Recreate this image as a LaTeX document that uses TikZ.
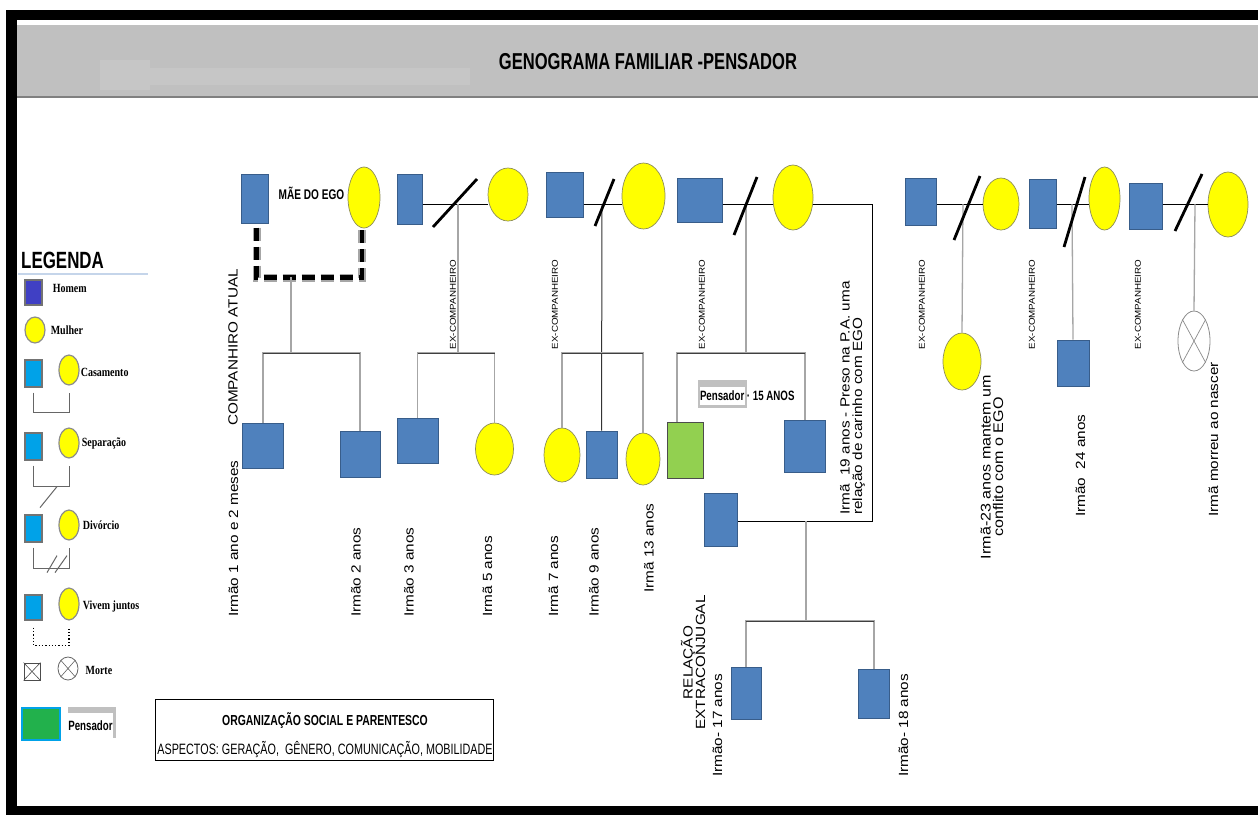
\documentclass[tikz,border=0pt]{standalone}
\usepackage{fontspec}
\setmainfont{Liberation Sans}
\newfontfamily\narrowfont{Liberation Sans}[FakeStretch=0.72]
\newfontfamily\widefont{Liberation Sans}[FakeStretch=1.15]
\newfontfamily\legfont{Liberation Serif}[FakeStretch=0.8]
\usetikzlibrary{positioning,shapes.geometric}

\definecolor{manblue}{HTML}{4F81BD}
\definecolor{manedge}{HTML}{385D8A}
\definecolor{womanyellow}{HTML}{FFFF00}
\definecolor{womanedge}{HTML}{8C8C5A}
\definecolor{thinkgreen}{HTML}{92D050}
\definecolor{headgray}{HTML}{C0C0C0}
\definecolor{kingray}{HTML}{A6A6A6}
\definecolor{legviolet}{HTML}{4040C4}
\definecolor{legcyan}{HTML}{00A2E8}
\definecolor{leggreen}{HTML}{22B14C}
\definecolor{legrule}{HTML}{C5D5EA}

\newcommand{\cutmark}[3]{\draw[cutline] ([shift={(-#2,#3)}]#1) -- ([shift={(#2,-#3)}]#1);}

\begin{document}
\begin{tikzpicture}[x=1pt, y=-1pt,
    man/.style={rectangle, draw=manedge, fill=manblue, line width=1pt, inner sep=0pt},
    woman/.style={ellipse, draw=womanedge, fill=womanyellow, line width=0.7pt, inner sep=0pt},
    thinker/.style={rectangle, draw=black!70, fill=thinkgreen, line width=0.8pt, inner sep=0pt},
    dead/.style={ellipse, draw=black!45, fill=white, line width=0.8pt, inner sep=0pt},
    couple/.style={draw=black, line width=0.9pt},
    kin/.style={draw=kingray, line width=1.3pt},
    sibbar/.style={draw=black!75, line width=0.9pt},
    cutline/.style={draw=black, line width=2.8pt},
    livetogether/.style={draw=black, line width=4.5pt, dash pattern=on 13pt off 6pt},
    agetext/.style={rotate=90, anchor=west, inner sep=0pt, font=\widefont\fontsize{13.3}{12.5}\selectfont},
    exlabel/.style={rotate=90, inner sep=0pt, font=\widefont\fontsize{8.5}{10}\selectfont},
    narrowtext/.style={inner sep=0pt, font=\narrowfont\bfseries\fontsize{14}{16}\selectfont},
    legbox/.style={rectangle, draw=black!55, fill=legcyan, line width=1.2pt, inner sep=0pt, minimum width=17pt},
    legcircle/.style={ellipse, draw=black!45, fill=womanyellow, line width=1.2pt, inner sep=0pt, minimum width=20pt},
    legtext/.style={inner sep=0pt, font=\legfont\bfseries\fontsize{12.5}{14}\selectfont},
    legline/.style={draw=black!60, line width=1pt}
]
    % fundo, moldura e cabecalho
    \fill[white] (0,0) rectangle (1258,815);
    \useasboundingbox (0,0) rectangle (1258,815);
    \fill[black] (6,10) rectangle (1258,20);
    \fill[black] (6,10) rectangle (17,815);
    \fill[black] (6,806) rectangle (1258,815);
    \fill[headgray] (17,25) rectangle (1258,97);
    \fill[headgray!90!white] (100,60) rectangle (150,90);
    \fill[headgray!90!white] (100,68) rectangle (470,85);
    \draw[black!50, line width=1.5pt] (17,97) -- (1258,97);
    \node[inner sep=0pt, font=\narrowfont\bfseries\fontsize{23}{27}\selectfont] (title) at (648,62) {GENOGRAMA FAMILIAR -PENSADOR};

    % legenda
    \node[anchor=west, inner sep=0pt, font=\narrowfont\bfseries\fontsize{23.5}{28}\selectfont] (legtitle) at (21,260) {LEGENDA};
    \draw[legrule, line width=1.2pt] (18,274) -- (148,274);

    \node[legbox, fill=legviolet, minimum height=25pt] (lgHomem) at (33.5,292.5) {};
    \node[legtext, right=10pt of lgHomem, yshift=4pt] (txHomem) {Homem};
    \node[legcircle, minimum height=26pt] (lgMulher) at (35,330) {};
    \node[legtext, right=5pt of lgMulher] (txMulher) {Mulher};

    \node[legbox, minimum height=27pt] (lgCasM) at (33.5,373.5) {};
    \node[legcircle, minimum height=30pt] (lgCasF) at (69,370) {};
    \node[legtext, right=1pt of lgCasF, yshift=-2pt] (txCas) {Casamento};
    \draw[legline] ([yshift=-5pt]lgCasM.south) -- ++(0,20) -| ([yshift=-7pt]lgCasF.south);

    \node[legbox, minimum height=27pt] (lgSepM) at (33.5,446.5) {};
    \node[legcircle, minimum height=30pt] (lgSepF) at (69,443) {};
    \node[legtext, right=2pt of lgSepF] (txSep) {Separação};
    \draw[legline] ([yshift=-5pt]lgSepM.south) -- ++(0,21) -| ([yshift=-7pt]lgSepF.south);
    \draw[legline] ([shift={(6.5,47)}]lgSepM.south) -- ++(17,-21);

    \node[legbox, minimum height=27pt] (lgDivM) at (33.5,528.5) {};
    \node[legcircle, minimum height=30pt] (lgDivF) at (69,525) {};
    \node[legtext, right=3pt of lgDivF] (txDiv) {Divórcio};
    \draw[legline] ([yshift=-5pt]lgDivM.south) -- ++(0,21) -| ([yshift=-7pt]lgDivF.south);
    \draw[legline] ([shift={(13.5,30)}]lgDivM.south) -- ++(10,-17);
    \draw[legline] ([shift={(21.5,30)}]lgDivM.south) -- ++(12,-17);

    \node[legbox, minimum height=25pt] (lgVivM) at (33.5,607.5) {};
    \node[legcircle, minimum height=32pt] (lgVivF) at (69,604) {};
    \node[legtext, right=3pt of lgVivF, yshift=-2pt] (txViv) {Vivem juntos};
    \draw[legline, draw=black, line width=1.3pt, dotted] ([yshift=-7pt]lgVivM.south) -- ++(0,18) -| ([yshift=-7pt]lgVivF.south);

    \node[rectangle, draw=black!70, fill=white, line width=0.8pt, inner sep=0pt, minimum width=16pt, minimum height=17pt] (lgMorteM) at (32,671.5) {};
    \draw[black!70, line width=0.6pt] (lgMorteM.north west) -- (lgMorteM.south east) (lgMorteM.north east) -- (lgMorteM.south west);
    \node[dead, draw=black!60, minimum width=20pt, minimum height=23pt] (lgMorteF) at (68,668.5) {};
    \draw[black!60, line width=0.6pt] (lgMorteF.north west) -- (lgMorteF.south east) (lgMorteF.north east) -- (lgMorteF.south west);
    \node[legtext, right=7pt of lgMorteF, yshift=-2pt] (txMorte) {Morte};

    \node[rectangle, draw=legcyan, fill=leggreen, line width=1.5pt, inner sep=0pt, minimum width=38pt, minimum height=32pt] (lgPens) at (41,724) {};
    \node[fill=headgray, inner sep=0pt, minimum width=48pt, minimum height=31pt] (lgPensBack) at (92,722.5) {};
    \node[fill=white, anchor=south west, inner sep=0pt, minimum width=45pt, minimum height=25pt,
          font=\narrowfont\bfseries\fontsize{13.5}{15}\selectfont] (lgPensTag) at (lgPensBack.south west) {Pensador};

    % geracao dos pais: casais
    \node[man, minimum width=27pt, minimum height=49pt] (comp) at (254.5,198.5) {};
    \node[woman, minimum width=32pt, minimum height=61pt] (mae) at (364,197.5) {};
    \node[narrowtext] (maelbl) at (311.5,193) {MÃE DO EGO};

    \node[man, minimum width=25pt, minimum height=50pt] (exB) at (409.5,199) {};
    \node[woman, minimum width=40pt, minimum height=53pt] (fB) at (508,194.5) {};
    \node[man, minimum width=37pt, minimum height=45pt] (exC) at (564.5,194.5) {};
    \node[woman, minimum width=43pt, minimum height=66pt] (fC) at (643.5,196) {};
    \node[man, minimum width=45pt, minimum height=44pt] (exD) at (699.5,200) {};
    \node[woman, minimum width=40pt, minimum height=65pt] (fD) at (793,197.5) {};
    \node[man, minimum width=31pt, minimum height=47pt] (exE) at (920.5,201.5) {};
    \node[woman, minimum width=36pt, minimum height=52pt] (fE) at (1001,204) {};
    \node[man, minimum width=27pt, minimum height=49pt] (exF) at (1042.5,203.5) {};
    \node[woman, minimum width=31pt, minimum height=63pt] (fF) at (1104.5,198.5) {};
    \node[man, minimum width=33pt, minimum height=46pt] (exG) at (1145.5,206) {};
    \node[woman, minimum width=40pt, minimum height=65pt] (fG) at (1228,204.5) {};

    % filhos
    \node[man, minimum width=41pt, minimum height=45pt] (irm1) at (263,445.5) {};
    \node[man, minimum width=40pt, minimum height=46pt] (irm2) at (360,454) {};
    \node[man, minimum width=41pt, minimum height=45pt] (irm3) at (417.5,440.5) {};
    \node[woman, minimum width=38pt, minimum height=52pt] (irm5) at (494.5,449) {};
    \node[woman, minimum width=36pt, minimum height=54pt] (irm7) at (562,455) {};
    \node[man, minimum width=31pt, minimum height=47pt] (irm9) at (601.5,454.5) {};
    \node[woman, minimum width=34pt, minimum height=52pt] (irm13) at (643,459) {};
    \node[thinker, minimum width=36pt, minimum height=56pt] (pens) at (685,450) {};
    \node[man, minimum width=41pt, minimum height=52pt] (irm19) at (805,446) {};
    \node[man, minimum width=33pt, minimum height=53pt] (extraM) at (720.5,519.5) {};
    \node[man, minimum width=30pt, minimum height=52pt] (irm17) at (746,693) {};
    \node[man, minimum width=31pt, minimum height=49pt] (irm18) at (874,693.5) {};
    \node[woman, minimum width=38pt, minimum height=57pt] (irm23) at (962,361.5) {};
    \node[man, minimum width=32pt, minimum height=46pt] (irm24) at (1073,363) {};
    \node[dead, minimum width=32pt, minimum height=60pt] (irmD) at (1194,341) {};
    \draw[black!45, line width=0.7pt] (irmD.north west) -- (irmD.south east) (irmD.north east) -- (irmD.south west);

    % pontos de uniao
    \coordinate (mB) at (458,204);
    \coordinate (mC) at (602,204);
    \coordinate (mD) at (746,204);
    \coordinate (mE) at (963,204);
    \coordinate (mF) at (1072,204);
    \coordinate (mG) at (1195,204);
    \coordinate (dA) at (291,277);
    \coordinate (barA) at (291,353);
    \coordinate (barB) at (458,353);
    \coordinate (barC) at (602,353);
    \coordinate (barD) at (746,353);
    \coordinate (turnX) at (872,521);
    \coordinate (dX) at (806,521);
    \coordinate (barX) at (806,621);

    % vivem juntos
    \draw[livetogether, draw=black!35, line width=8pt] ([xshift=2pt,yshift=-4pt]comp.south) -- ++(0,50) -| ([xshift=-2pt,yshift=-1pt]mae.south);
    \draw[livetogether] ([xshift=2pt,yshift=-4pt]comp.south) -- ++(0,50) -| ([xshift=-2pt,yshift=-1pt]mae.south);
    \draw[kin] (dA) -- (barA);
    \draw[kin] (irm1.north) |- (barA) -| (irm2.north);
    \draw[sibbar] (irm1.north |- barA) -- (irm2.north |- barA);

    % casais separados
    \draw[couple] (exB.east |- mB) -- (fB.west |- mB);
    \draw[couple] (exC.east |- mC) -- (fC.west |- mC);
    \draw[couple] (exD.east |- mD) -- (fD.west |- mD);
    \draw[couple] (exE.east |- mE) -- (fE.west |- mE);
    \draw[couple] (exF.east |- mF) -- (fF.west |- mF);
    \draw[couple] (exG.east |- mG) -- (fG.west |- mG);

    \draw[kin] (mB) -- (barB);
    \draw[kin] (irm3.north) |- (barB) -| (irm5.north);
    \draw[sibbar] (irm3.north |- barB) -- (irm5.north |- barB);

    \draw[kin, draw=black!80, line width=1pt] (mC) -- (irm9.north);
    \draw[kin] (irm7.north) |- (barC) -| (irm13.north);
    \draw[sibbar] (irm7.north |- barC) -- (irm13.north |- barC);

    \draw[kin] (mD) -- (barD);
    \draw[kin] ([xshift=-8pt]pens.north) |- (barD) -| (irm19.north);
    \draw[sibbar] ([xshift=-8pt]pens.north |- barD) -- (irm19.north |- barD);

    % relacao extraconjugal
    \draw[couple] (fD.east |- mD) -| (turnX) -- (extraM.east |- turnX);
    \draw[kin] (dX) -- (barX);
    \draw[kin] (irm17.north) |- (barX) -| (irm18.north);
    \draw[sibbar] (irm17.north |- barX) -- (irm18.north |- barX);

    \draw[kin] (mE) -- (irm23.north);
    \draw[kin] (mF) -- (irm24.north);
    \draw[kin] (mG) -- (irmD.north);

    % tracos de separacao
    \coordinate (cutB) at (455,203);
    \coordinate (cutC) at (604.5,202.5);
    \coordinate (cutD) at (745.5,206);
    \coordinate (cutE) at (967,208);
    \coordinate (cutF) at (1074.5,212);
    \coordinate (cutG) at (1188.5,202.5);
    \cutmark{cutB}{22}{24}
    \cutmark{cutC}{9.5}{23.5}
    \cutmark{cutD}{11.5}{29}
    \cutmark{cutE}{13}{32}
    \cutmark{cutF}{10.5}{35}
    \cutmark{cutG}{13.5}{28.5}

    % textos verticais
    \node[agetext, anchor=center] (lbComp) at (233,347.5) {COMPANHIRO ATUAL};
    \node[exlabel] (exlbB) at (453,304.5) {EX-COMPANHEIRO};
    \node[exlabel] (exlbC) at (555,304.5) {EX-COMPANHEIRO};
    \node[exlabel] (exlbD) at (702,304.5) {EX-COMPANHEIRO};
    \node[exlabel] (exlbE) at (922,304.5) {EX-COMPANHEIRO};
    \node[exlabel] (exlbF) at (1032,304.5) {EX-COMPANHEIRO};
    \node[exlabel] (exlbG) at (1138,304.5) {EX-COMPANHEIRO};

    \node[agetext] (lb1) at (233.5,617) {Irmão 1 ano e 2 meses};
    \node[agetext] (lb2) at (356,617) {Irmão 2 anos};
    \node[agetext] (lb3) at (409,617) {Irmão 3 anos};
    \node[agetext] (lb5) at (487.5,617) {Irmã 5 anos};
    \node[agetext] (lb7) at (553.5,617) {Irmã 7 anos};
    \node[agetext] (lb9) at (594,617) {Irmão 9 anos};
    \node[agetext] (lb13) at (649,593) {Irmã 13 anos};
    \node[agetext, align=left] (lb19) at (852.5,515) {Irmã\ \ 19 anos - Preso na P.A. uma\\relação de carinho com EGO};
    \node[agetext, anchor=center, align=center, font=\widefont\fontsize{14}{12.5}\selectfont] (lb23) at (992,467) {Irmã-23 anos mantem um\\conflito com o EGO};
    \node[agetext] (lb24) at (1080.5,517) {Irmão\ \ 24 anos};
    \node[agetext] (lbD) at (1213.5,517) {Irmã morreu ao nascer};
    \node[agetext, anchor=center, align=center] (lbRel) at (693,662.5) {RELAÇÃO\\EXTRACONJUGAL};
    \node[agetext] (lb17) at (717.5,777) {Irmão- 17 anos};
    \node[agetext] (lb18) at (903.5,777) {Irmão- 18 anos};

    % etiqueta do pensador
    \node[fill=headgray, inner sep=0pt, minimum width=49pt, minimum height=28pt] (pensBack) at (722.5,394) {};
    \node[fill=white, inner sep=0pt, minimum width=45pt, minimum height=18pt] (pensFront) at (722.5,396) {};
    \node[narrowtext, anchor=west, font=\narrowfont\bfseries\fontsize{13.5}{15}\selectfont] (pensTag) at (pensFront.west) {Pensador · 15 ANOS};

    % quadro inferior
    \node[draw=black, line width=1pt, inner sep=0pt, minimum width=338pt, minimum height=61pt] (orgbox) at (324,729.5) {};
    \node[narrowtext, font=\narrowfont\bfseries\fontsize{14.5}{16}\selectfont] (orgtitle) at (325,721) {ORGANIZAÇÃO SOCIAL E PARENTESCO};
    \node[inner sep=0pt, font=\narrowfont\fontsize{15}{17}\selectfont] (orgaspects) at (325,749) {ASPECTOS: GERAÇÃO,\ \ GÊNERO, COMUNICAÇÃO, MOBILIDADE};
\end{tikzpicture}
\end{document}
